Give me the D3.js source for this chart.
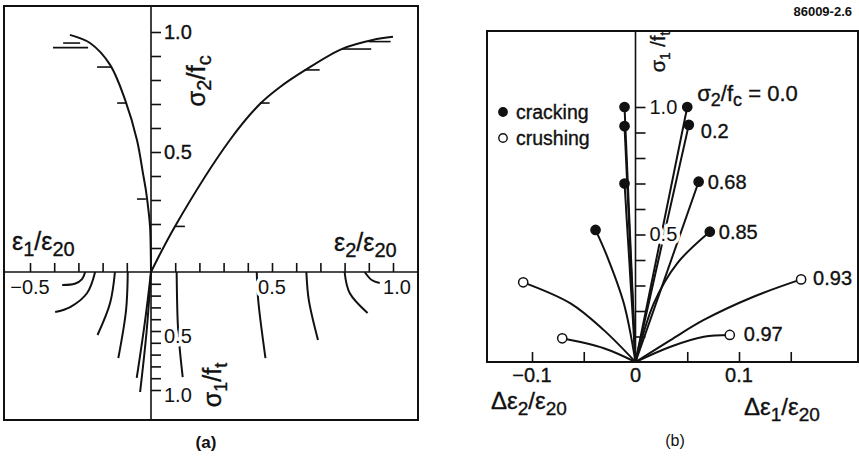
<!DOCTYPE html>
<html>
<head>
<meta charset="utf-8">
<script src="https://cdn.jsdelivr.net/npm/d3@7"></script>
<style>
body { margin: 0; background: #fff; }
svg { display: block; font-family: "Liberation Sans", Arial, Helvetica, sans-serif; }
.curve { fill: none; stroke: #111; stroke-width: 2; }
.mark { stroke: #111; stroke-width: 1.6; }
.frame { fill: none; stroke: #111; stroke-width: 2; }
.axisline { stroke: #111; stroke-width: 1.6; }
.ink { fill: #111; stroke: #111; stroke-width: 0.35; }
.halo { paint-order: stroke; stroke: #fff; stroke-width: 7; stroke-linejoin: round; }
</style>
</head>
<body>
<svg id="chart" width="859" height="456"></svg>
<script>
// ---- panel (a): sigma2/fc (up) and sigma1/ft (down) against strain ----
var sigmaTicks = [0.1, 0.2, 0.3, 0.4, 0.5, 0.6, 0.7, 0.8, 0.9, 1.0];
var sigmaLabels = [0.5, 1.0];
var strainTicks = [-0.5, -0.4, -0.3, -0.2, -0.1, 0.1, 0.2, 0.3, 0.4, 0.5, 0.6, 0.7, 0.8, 0.9, 1.0];
var strainLabels = [-0.5, 0.5, 1.0];

// compressive envelope, [strain, sigma2/fc]
var upperRight = [[0, 0], [0.099, 0.19], [0.326, 0.55], [0.45, 0.70], [0.532, 0.77],
                  [0.635, 0.84], [0.79, 0.93], [0.916, 0.967], [1.0, 0.98]];
var upperLeft = [[0, 0], [-0.004, 0.19], [-0.012, 0.27], [-0.021, 0.34], [-0.033, 0.41],
                 [-0.058, 0.55], [-0.107, 0.717], [-0.169, 0.863], [-0.252, 0.954], [-0.335, 0.988]];

// short horizontal marks on the envelopes, [sigma2/fc, strain from, strain to]
var marksRight = [[0.19, 0.099, 0.14], [0.704, 0.45, 0.49], [0.842, 0.635, 0.697],
                  [0.929, 0.79, 0.91], [0.96, 0.90, 0.99]];
var marksLeft = [[0.304, -0.058, -0.021], [0.704, -0.14, -0.099], [0.854, -0.223, -0.165],
                 [0.935, -0.405, -0.26], [0.954, -0.363, -0.293]];

// tensile branches, [strain, sigma1/ft]
var lowerCurves = [
  [[-0.272, 0], [-0.285, 0.06], [-0.315, 0.1], [-0.367, 0.11]],
  [[-0.231, 0], [-0.264, 0.178], [-0.334, 0.297], [-0.396, 0.339]],
  [[-0.149, 0], [-0.169, 0.263], [-0.221, 0.534]],
  [[-0.096, 0], [-0.103, 0.322], [-0.135, 0.729]],
  [[0, 0], [-0.025, 0.42], [-0.059, 0.898]],
  [[0, 0], [-0.018, 0.5], [-0.045, 1.017]],
  [[0.106, 0], [0.111, 0.449], [0.12, 0.678], [0.131, 0.89]],
  [[0.437, 0], [0.443, 0.237], [0.473, 0.729]],
  [[0.642, 0], [0.652, 0.237], [0.69, 0.576]],
  [[0.80, 0], [0.821, 0.178], [0.895, 0.347]],
  [[0.883, 0], [0.912, 0.068], [0.945, 0.093]]
];

// ---- panel (b): strain increments at cracking / crushing ----
var incTicksY = [0.1, 0.2, 0.3, 0.4, 0.5, 0.6, 0.7, 0.8, 0.9, 1.0];
var incTicksX = [-0.1, -0.05, 0.05, 0.1, 0.15];
var incLabelsX = [-0.1, 0, 0.1];
var stressRatios = ['0.0', '0.2', '0.68', '0.85', '0.93', '0.97'];
var failureType = ['cracking', 'cracking', 'cracking', 'cracking', 'crushing', 'crushing'];
// [d eps1/eps20 or d eps2/eps20, sigma1/ft], from the origin outwards
var branchRight = [
  [[0, 0], [0.05, 1.0]],
  [[0, 0], [0.0515, 0.93]],
  [[0, 0], [0.061, 0.707]],
  [[0, 0], [0.0177, 0.23], [0.0403, 0.387], [0.0718, 0.511]],
  [[0, 0], [0.0338, 0.086], [0.066, 0.165], [0.114, 0.256], [0.16, 0.324]],
  [[0, 0], [0.0338, 0.06], [0.066, 0.099], [0.0911, 0.106]]
];
var branchLeft = [
  [[0, 0], [-0.0106, 1.0]],
  [[0, 0], [-0.0106, 0.925]],
  [[0, 0], [-0.0106, 0.70]],
  [[0, 0], [-0.0113, 0.23], [-0.0273, 0.413], [-0.0386, 0.518]],
  [[0, 0], [-0.0306, 0.125], [-0.0628, 0.23], [-0.1085, 0.3125]],
  [[0, 0], [-0.0306, 0.054], [-0.0708, 0.093]]
];

var svg = d3.select('#chart');

// text with subscripts: parts = [[string, isSub], ...]
function richText(sel, parts, size, subSize, shift) {
  var cur = 0;
  sel.attr('class', 'ink');
  parts.forEach(function(p) {
    var s = p[1] ? shift : 0;
    sel.append('tspan')
      .attr('dy', s - cur)
      .attr('font-size', p[1] ? subSize : size)
      .text(p[0]);
    cur = s;
  });
  return sel;
}

function styleAxis(g, size) {
  g.select('.domain').remove();
  g.selectAll('.tick line').attr('stroke', '#111').attr('stroke-width', 1.6);
  g.selectAll('.tick text').attr('class', 'ink').attr('font-size', size || 20)
    .attr('font-family', '"Liberation Sans", Arial, sans-serif');
}

var fmt1 = d3.format('.1f');

// ================= panel (a) =================
var gA = svg.append('g');
var xA = d3.scaleLinear().domain([-0.5, 1.0]).range([30, 393]);
var yUp = d3.scaleLinear().domain([0, 1]).range([272, 32]);
var yDown = d3.scaleLinear().domain([0, 1]).range([272, 390]);

gA.append('rect').attr('class', 'frame')
  .attr('x', 4).attr('y', 6).attr('width', 414).attr('height', 414);

var lineA = d3.line().curve(d3.curveCatmullRom.alpha(0.5));

gA.append('path').attr('class', 'curve')
  .attr('d', lineA(upperRight.map(function(d) { return [xA(d[0]), yUp(d[1])]; })));
gA.append('path').attr('class', 'curve')
  .attr('d', lineA(upperLeft.map(function(d) { return [xA(d[0]), yUp(d[1])]; })));

gA.selectAll('.markR').data(marksRight.concat(marksLeft)).enter()
  .append('line').attr('class', 'mark')
  .attr('x1', function(d) { return xA(d[1]); })
  .attr('x2', function(d) { return xA(d[2]); })
  .attr('y1', function(d) { return yUp(d[0]); })
  .attr('y2', function(d) { return yUp(d[0]); });

gA.selectAll('.lower').data(lowerCurves).enter()
  .append('path').attr('class', 'curve lower')
  .attr('d', function(c) {
    return lineA(c.map(function(d) { return [xA(d[0]), yDown(d[1])]; }));
  });

// axes lines
gA.append('line').attr('class', 'axisline')
  .attr('x1', xA(0)).attr('x2', xA(0)).attr('y1', 6).attr('y2', 420);
gA.append('line').attr('class', 'axisline')
  .attr('x1', 4).attr('x2', 418).attr('y1', yUp(0)).attr('y2', yUp(0));

var yUpAxis = gA.append('g').attr('transform', 'translate(' + xA(0) + ',0)')
  .call(d3.axisRight(yUp).tickValues(sigmaTicks).tickSize(10).tickPadding(3)
    .tickFormat(function(d) { return sigmaLabels.indexOf(d) >= 0 ? fmt1(d) : ''; }));
styleAxis(yUpAxis);

var yDownAxis = gA.append('g').attr('transform', 'translate(' + xA(0) + ',0)')
  .call(d3.axisRight(yDown).tickValues(sigmaTicks).tickSize(10).tickPadding(3)
    .tickFormat(function(d) { return sigmaLabels.indexOf(d) >= 0 ? fmt1(d) : ''; }));
styleAxis(yDownAxis);
yDownAxis.selectAll('.tick text').attr('class', 'ink halo').attr('dy', '0.55em');

var xAxisA = gA.append('g').attr('transform', 'translate(0,' + yUp(0) + ')')
  .call(d3.axisTop(xA).tickValues(strainTicks).tickSize(9).tickFormat(''));
styleAxis(xAxisA);

gA.selectAll('.xlabA').data(strainLabels).enter()
  .append('text').attr('class', 'ink halo')
  .attr('x', function(d) { return xA(d) + (d === 1.0 ? 4 : 0); })
  .attr('y', yUp(0) + 22)
  .attr('text-anchor', 'middle').attr('font-size', 20)
  .text(function(d) { return fmt1(d); });

richText(gA.append('text').attr('x', 12).attr('y', 250),
  [['ε', 0], ['1', 1], ['/ε', 0], ['20', 1]], 25, 20, 6);
richText(gA.append('text').attr('x', 334).attr('y', 251),
  [['ε', 0], ['2', 1], ['/ε', 0], ['20', 1]], 25, 20, 6);

richText(gA.append('text').attr('text-anchor', 'middle')
  .attr('transform', 'translate(205,81) rotate(-90)'),
  [['σ', 0], ['2', 1], ['/f', 0], ['c', 1]], 26, 20, 6);
richText(gA.append('text').attr('text-anchor', 'middle')
  .attr('transform', 'translate(221,385) rotate(-90)'),
  [['σ', 0], ['1', 1], ['/f', 0], ['t', 1]], 25, 18, 6);

gA.append('text').attr('x', 206).attr('y', 448).attr('text-anchor', 'middle')
  .attr('font-size', 17).attr('font-weight', 'bold').attr('fill', '#111').text('(a)');

// ================= panel (b) =================
var gB = svg.append('g');
var xB = d3.scaleLinear().domain([-0.1, 0.1]).range([532, 739]);
var yB = d3.scaleLinear().domain([0, 1]).range([362, 107]);

gB.append('rect').attr('class', 'frame')
  .attr('x', 487).attr('y', 31).attr('width', 371).attr('height', 331);

var lineB = d3.line()
  .x(function(d) { return xB(d[0]); })
  .y(function(d) { return yB(d[1]); })
  .curve(d3.curveCatmullRom.alpha(0.5));

gB.selectAll('.bR').data(branchRight).enter()
  .append('path').attr('class', 'curve').attr('d', lineB);
gB.selectAll('.bL').data(branchLeft).enter()
  .append('path').attr('class', 'curve').attr('d', lineB);

gB.append('line').attr('class', 'axisline')
  .attr('x1', xB(0)).attr('x2', xB(0)).attr('y1', 31).attr('y2', 362);

var yAxisB = gB.append('g').attr('transform', 'translate(' + xB(0) + ',0)')
  .call(d3.axisRight(yB).tickValues(incTicksY).tickSize(10).tickPadding(3)
    .tickFormat(function(d) { return sigmaLabels.indexOf(d) >= 0 ? fmt1(d) : ''; }));
styleAxis(yAxisB);
yAxisB.selectAll('.tick text').attr('class', 'ink halo').attr('dx', 1);

var xAxisB = gB.append('g').attr('transform', 'translate(0,362)')
  .call(d3.axisTop(xB).tickValues(incTicksX).tickSize(10).tickFormat(''));
styleAxis(xAxisB);

gB.selectAll('.xlabB').data(incLabelsX).enter()
  .append('text').attr('class', 'ink')
  .attr('x', function(d) { return xB(d); })
  .attr('y', 382)
  .attr('text-anchor', 'middle').attr('font-size', 20)
  .text(function(d) { return d === 0 ? '0' : fmt1(d); });

// end points
function endPoint(b) { return b[b.length - 1]; }
var ends = [];
stressRatios.forEach(function(r, i) {
  ends.push({ p: endPoint(branchRight[i]), type: failureType[i] });
  ends.push({ p: endPoint(branchLeft[i]), type: failureType[i] });
});
gB.selectAll('.dot').data(ends).enter()
  .append('circle')
  .attr('cx', function(d) { return xB(d.p[0]); })
  .attr('cy', function(d) { return yB(d.p[1]); })
  .attr('r', 4.6)
  .attr('fill', function(d) { return d.type === 'cracking' ? '#111' : '#fff'; })
  .attr('stroke', '#111').attr('stroke-width', 1.5);

// series labels next to right end points
var labelOffsets = [[10, -6], [12, 13], [9, 7], [9, 7], [12, 6], [14, 6]];
stressRatios.forEach(function(r, i) {
  var e = endPoint(branchRight[i]);
  var t = gB.append('text').attr('class', 'ink')
    .attr('x', xB(e[0]) + labelOffsets[i][0])
    .attr('y', yB(e[1]) + labelOffsets[i][1]);
  if (i === 0) {
    richText(t, [['σ', 0], ['2', 1], ['/f', 0], ['c', 1], [' =\u00a00.0', 0]], 22, 18, 5);
  } else {
    t.attr('font-size', 20).text(r);
  }
});

// legend
var legend = [['cracking', 112], ['crushing', 138]];
legend.forEach(function(l) {
  gB.append('circle').attr('cx', 503).attr('cy', l[1])
    .attr('r', 4.2).attr('stroke', '#111').attr('stroke-width', 1.4)
    .attr('fill', l[0] === 'cracking' ? '#111' : '#fff');
  gB.append('text').attr('class', 'ink').attr('x', 516).attr('y', l[1] + 7)
    .attr('font-size', 19.5).text(l[0]);
});

richText(gB.append('text').attr('text-anchor', 'middle')
  .attr('transform', 'translate(665,52) rotate(-90)'),
  [['σ', 0], ['1', 1], [' /f', 0], ['t', 1]], 20, 14, 5);

richText(gB.append('text').attr('x', 491).attr('y', 409),
  [['Δε', 0], ['2', 1], ['/ε', 0], ['20', 1]], 24, 19, 6);
richText(gB.append('text').attr('x', 744).attr('y', 415),
  [['Δε', 0], ['1', 1], ['/ε', 0], ['20', 1]], 24, 19, 6);

gB.append('text').attr('x', 675).attr('y', 446).attr('text-anchor', 'middle')
  .attr('font-size', 16).attr('fill', '#111').text('(b)');

svg.append('text').attr('x', 852).attr('y', 16).attr('text-anchor', 'end')
  .attr('font-size', 13).attr('font-weight', 'bold').attr('fill', '#111').text('86009-2.6');
</script>
</body>
</html>
